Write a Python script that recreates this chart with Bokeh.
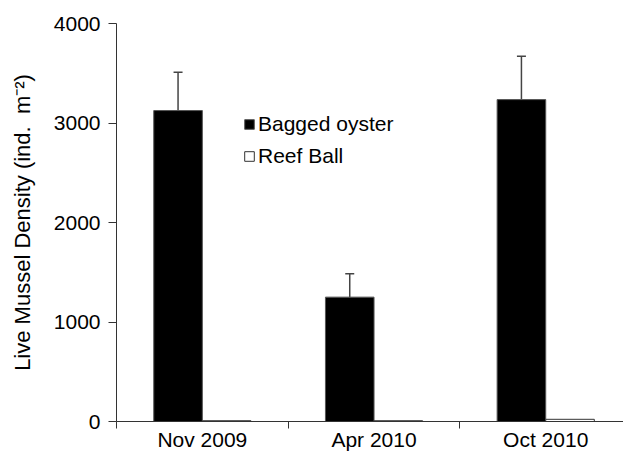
import numpy as np
from bokeh.plotting import figure
from bokeh.models import (ColumnDataSource, Range1d, FixedTicker, Whisker, TeeHead,
                          Legend, LegendItem)
from bokeh.transform import dodge
from bokeh.embed import file_html
from bokeh.resources import INLINE

# ---- data ----
categories = ["Nov 2009", "Apr 2010", "Oct 2010"]
bagged_mean = [3125, 1250, 3235]
bagged_se = [385, 235, 435]
reef_mean = [8, 8, 22]
reef_se = [0, 0, 0]
y_ticks = [0, 1000, 2000, 3000, 4000]

FONT = "Liberation Sans"
BAR_W = 0.283

xc = list(np.arange(len(categories)) + 0.5)
src = ColumnDataSource(dict(
    x=xc,
    bm=bagged_mean,
    bu=[m + s for m, s in zip(bagged_mean, bagged_se)],
    rm=reef_mean,
    ru=[m + s for m, s in zip(reef_mean, reef_se)],
))

p = figure(width=623, height=453, output_backend="svg", toolbar_location=None,
           x_range=Range1d(0, 2.953), y_range=Range1d(0, 4000),
           min_border_left=116, min_border_right=0, min_border_top=23,
           min_border_bottom=31)
p.outline_line_color = None
p.xgrid.grid_line_color = None
p.ygrid.grid_line_color = None
p.background_fill_color = "white"
p.border_fill_color = "white"

r1 = p.vbar(x=dodge("x", -BAR_W / 2, range=p.x_range), top="bm", width=BAR_W,
            source=src, fill_color="black", line_color="#555555", line_width=1)
r2 = p.vbar(x=dodge("x", BAR_W / 2, range=p.x_range), top="rm", width=BAR_W,
            source=src, fill_color="white", line_color="#333333", line_width=1)

w1 = Whisker(base=dodge("x", -BAR_W / 2, range=p.x_range), upper="bu", lower="bm",
             source=src, dimension="height", line_color="#444444", line_width=1.5,
             upper_head=TeeHead(size=9, line_color="#444444", line_width=1.5),
             lower_head=None)
p.add_layout(w1)

# axes
p.xaxis.ticker = FixedTicker(ticks=xc, minor_ticks=[0, 1, 2, 3])
p.xaxis.major_label_overrides = {v: c for v, c in zip(xc, categories)}
p.xaxis.major_tick_line_color = None
p.xaxis.major_tick_out = 0
p.xaxis.major_tick_in = 0
p.xaxis.minor_tick_out = 7
p.xaxis.minor_tick_in = 0
p.xaxis.minor_tick_line_color = "#333333"
p.xaxis.major_label_standoff = -1
p.xaxis.axis_line_color = "#333333"

p.yaxis.ticker = FixedTicker(ticks=y_ticks, minor_ticks=[])
p.yaxis.major_tick_out = 8
p.yaxis.major_tick_in = 0
p.yaxis.major_label_standoff = 8
p.yaxis.axis_line_color = "#333333"
p.yaxis.major_tick_line_color = "#333333"
p.yaxis.axis_label = "Live Mussel Density (ind.\u00a0 m\u207b\u00b2)"
p.yaxis.axis_label_standoff = 16
p.yaxis.axis_label_text_font_style = "normal"

for ax in (p.xaxis[0], p.yaxis[0]):
    ax.major_label_text_font = FONT
    ax.major_label_text_font_size = "21px"
    ax.major_label_text_color = "black"
    ax.axis_label_text_font = FONT
    ax.axis_label_text_font_size = "22px"
    ax.axis_label_text_color = "black"

legend = Legend(items=[LegendItem(label="Bagged oyster", renderers=[r1]),
                       LegendItem(label="Reef Ball", renderers=[r2])],
                location=(127, 253), orientation="vertical",
                glyph_width=12, glyph_height=12, label_standoff=3, spacing=8,
                padding=0, margin=0, border_line_color=None,
                background_fill_alpha=0,
                label_text_font=FONT, label_text_font_size="21px",
                label_text_color="black")
p.add_layout(legend)

open("out.html", "w").write(file_html(p, INLINE))
